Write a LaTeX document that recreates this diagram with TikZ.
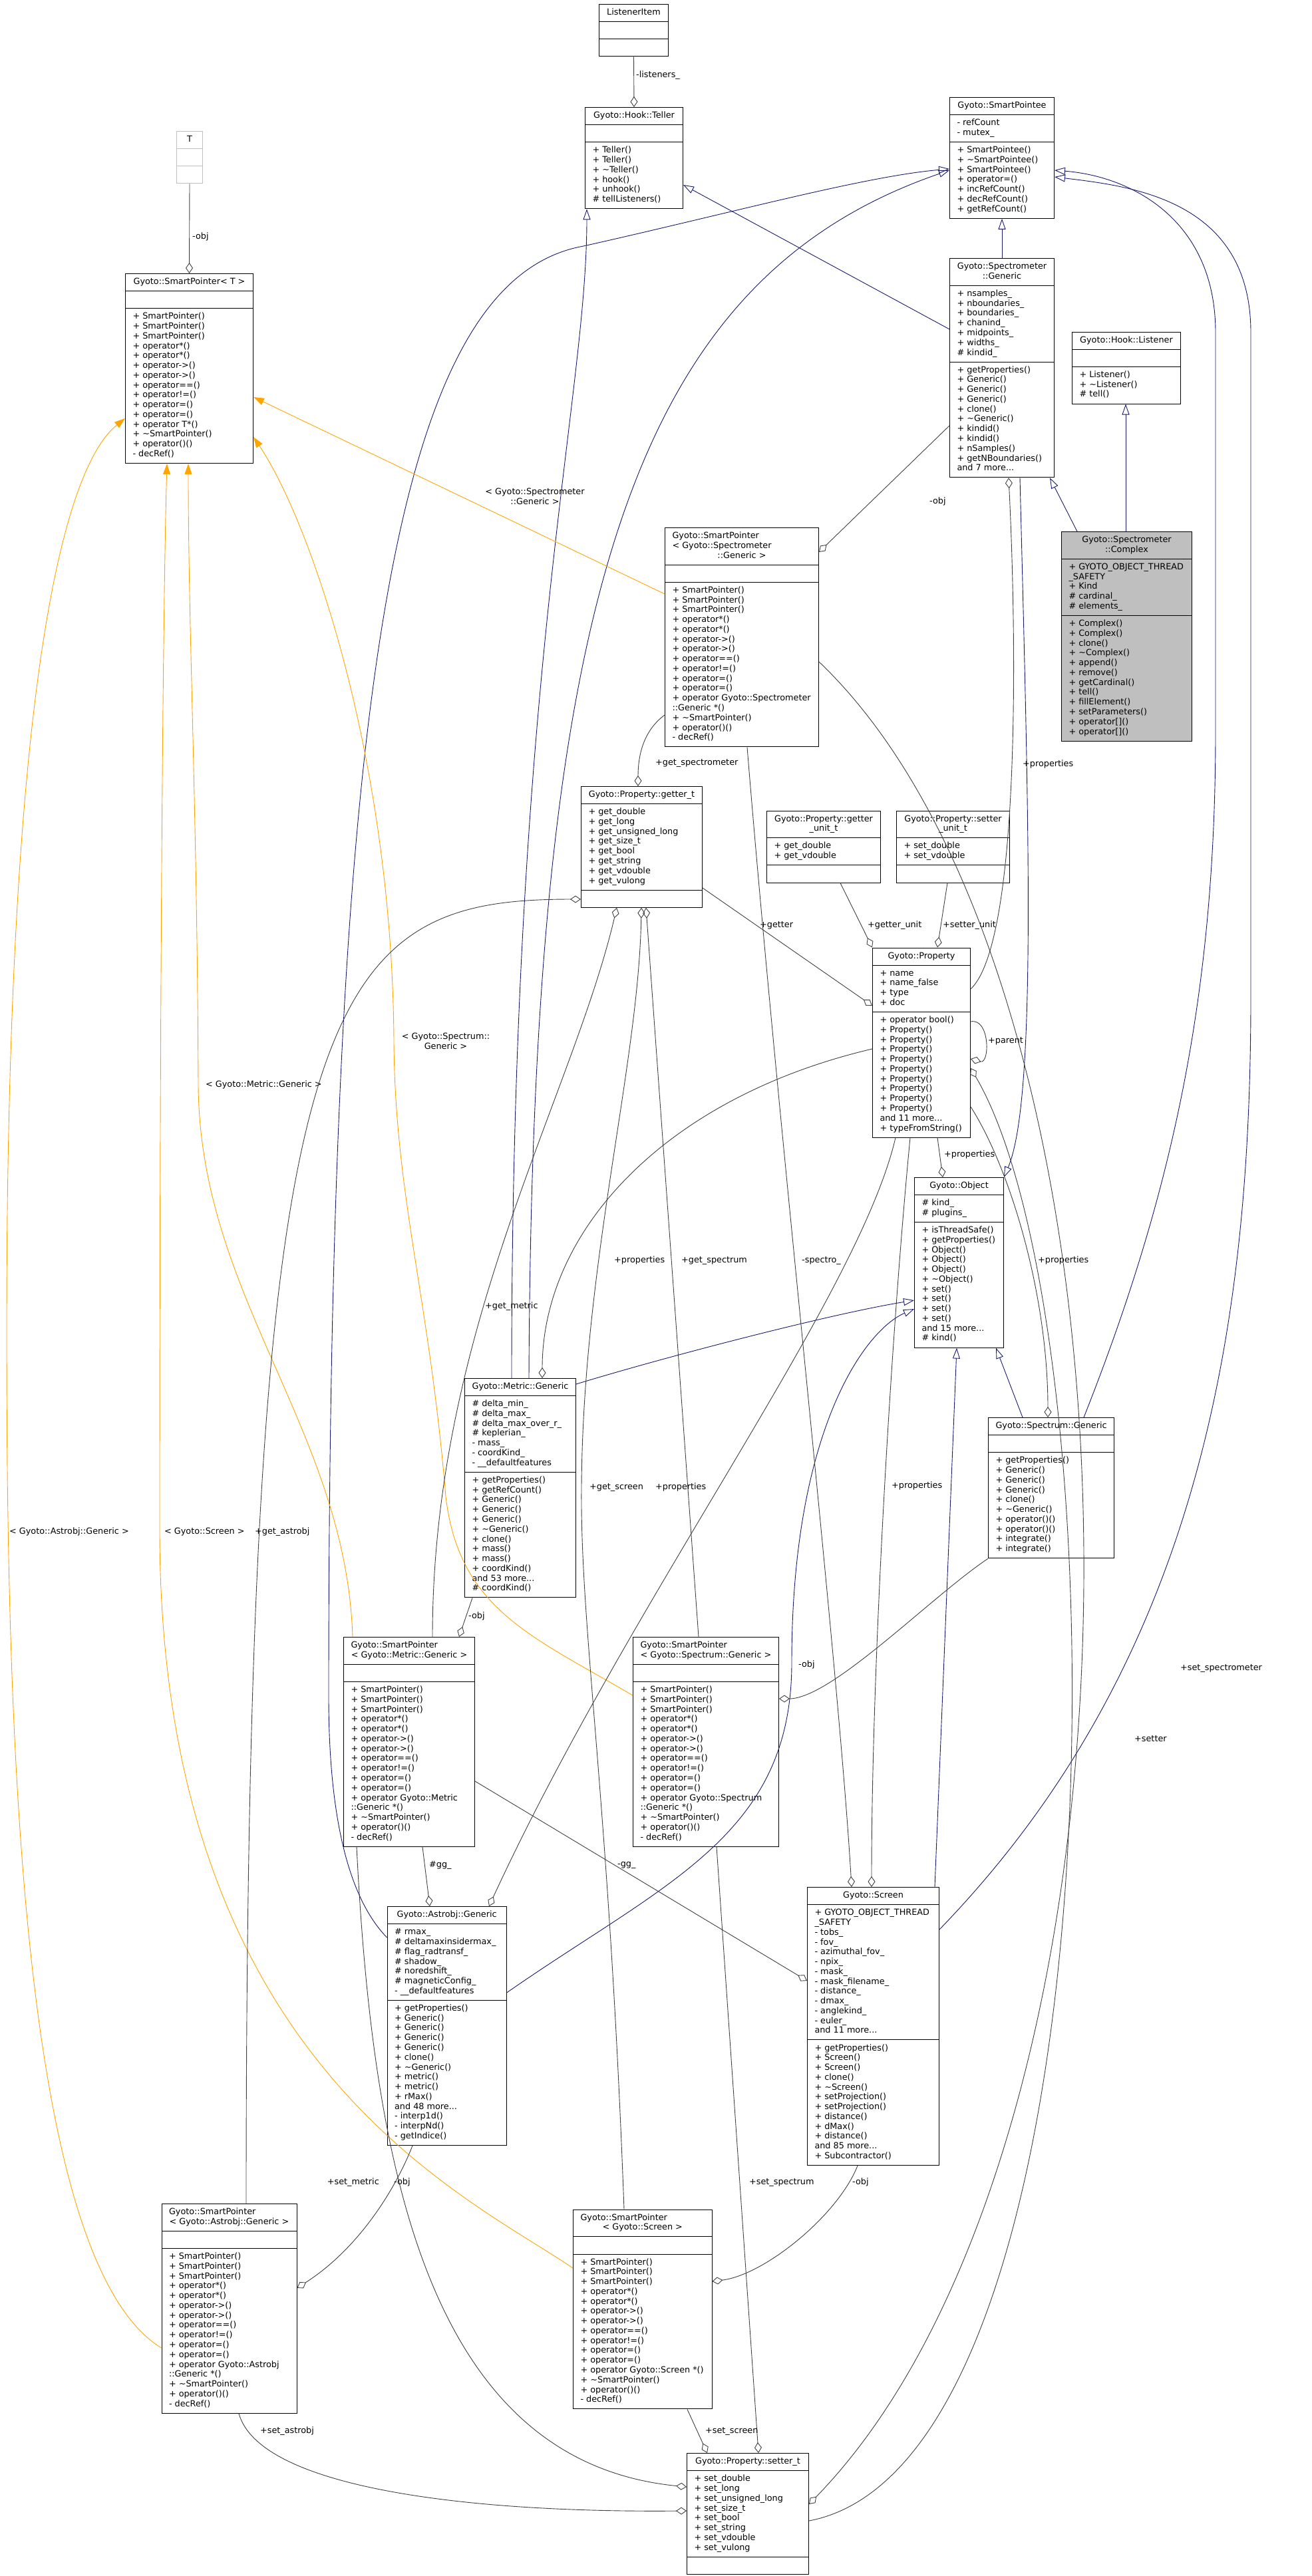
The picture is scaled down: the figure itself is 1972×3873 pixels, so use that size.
\documentclass[tikz,border=0pt]{standalone}
\usepackage{fontspec}
\setmainfont{DejaVu Sans}
\usetikzlibrary{arrows.meta}
\usetikzlibrary{shapes.multipart}

\definecolor{edgegray}{HTML}{404040}
\definecolor{inhblue}{HTML}{191970}
\definecolor{tplorange}{HTML}{FFA500}
\definecolor{boxgray}{HTML}{BFBFBF}

\newcommand{\cfont}{\fontsize{12.8}{14.76}\selectfont}
\newcommand{\umllines}[1]{\begin{tabular}{@{}l@{}}#1\end{tabular}}
\newcommand{\umlclines}[1]{\begin{tabular}{@{}c@{}}#1\end{tabular}}
\newcommand{\sptitle}[3]{\begin{tabular}{@{}p{#1}@{}}#2\\\multicolumn{1}{@{}c@{}}{#3}\end{tabular}}
\newcommand{\spmethods}[1]{\umllines{+ SmartPointer()\\+ SmartPointer()\\+ SmartPointer()\\+ operator*()\\+ operator*()\\+ operator->()\\+ operator->()\\+ operator==()\\+ operator!=()\\+ operator=()\\+ operator=()\\#1\\+ \textasciitilde SmartPointer()\\+ operator()()\\- decRef()}}

\tikzset{
  cls/.style={rectangle split, rectangle split parts=3, draw=black, line width=1pt,
    anchor=north west, inner xsep=11pt, inner ysep=5.2pt,
    rectangle split part align={center,left,left}, font=\cfont},
  agg/.style={draw=edgegray, line width=0.9pt, -{Diamond[open, length=16pt, width=11pt]}},
  inh/.style={draw=inhblue, line width=0.9pt, -{Triangle[open, length=16pt, width=11pt]}},
  tpl/.style={draw=tplorange, line width=0.9pt, -{Triangle[length=16pt, width=11pt]}},
  lbl/.style={font=\cfont, inner sep=0pt, anchor=west}
}

\begin{document}
\begin{tikzpicture}[x=1pt, y=-1pt]
\useasboundingbox (0,0) rectangle (1972,3873);

% classes
\node[cls, draw=boxgray, minimum width=39pt] (tmpl) at (265,197) {\strut T\nodepart{two}\strut\nodepart{three}\strut};
\node[cls, minimum width=192pt] (spt) at (188,411) {\strut Gyoto::SmartPointer< T >\nodepart{two}\strut
  \nodepart{three}\spmethods{+ operator T*()}};
\node[cls, minimum width=104pt] (litem) at (900,6) {\strut ListenerItem\nodepart{two}\strut\nodepart{three}\strut};
\node[cls, minimum width=147pt] (teller) at (879,161) {\strut Gyoto::Hook::Teller\nodepart{two}\strut
  \nodepart{three}\umllines{+ Teller()\\+ Teller()\\+ \textasciitilde Teller()\\+ hook()\\+ unhook()\\\# tellListeners()}};
\node[cls, minimum width=157pt] (ptee) at (1427,146) {\strut Gyoto::SmartPointee
  \nodepart{two}\umllines{- refCount\\- mutex\_}
  \nodepart{three}\umllines{+ SmartPointee()\\+ \textasciitilde SmartPointee()\\+ SmartPointee()\\+ operator=()\\+ incRefCount()\\+ decRefCount()\\+ getRefCount()}};
\node[cls, minimum width=157pt] (spgen) at (1427,388) {\umlclines{Gyoto::Spectrometer\\::Generic}
  \nodepart{two}\umllines{+ nsamples\_\\+ nboundaries\_\\+ boundaries\_\\+ chanind\_\\+ midpoints\_\\+ widths\_\\\# kindid\_}
  \nodepart{three}\umllines{+ getProperties()\\+ Generic()\\+ Generic()\\+ Generic()\\+ clone()\\+ \textasciitilde Generic()\\+ kindid()\\+ kindid()\\+ nSamples()\\+ getNBoundaries()\\and 7 more...}};
\node[cls, minimum width=163pt] (listener) at (1611,498.5) {\strut Gyoto::Hook::Listener\nodepart{two}\strut
  \nodepart{three}\umllines{+ Listener()\\+ \textasciitilde Listener()\\\# tell()}};
\node[cls, fill=boxgray, minimum width=196pt] (cplx) at (1595,799) {\umlclines{Gyoto::Spectrometer\\::Complex}
  \nodepart{two}\umllines{+ GYOTO\_OBJECT\_THREAD\\\_SAFETY\\+ Kind\\\# cardinal\_\\\# elements\_}
  \nodepart{three}\umllines{+ Complex()\\+ Complex()\\+ clone()\\+ \textasciitilde Complex()\\+ append()\\+ remove()\\+ getCardinal()\\+ tell()\\+ fillElement()\\+ setParameters()\\+ operator[]()\\+ operator[]()}};
\node[cls, minimum width=231pt] (spspec) at (999,793) {\sptitle{209pt}{Gyoto::SmartPointer\\< Gyoto::Spectrometer}{::Generic >}
  \nodepart{two}\strut
  \nodepart{three}\spmethods{+ operator Gyoto::Spectrometer\\::Generic *()}};
\node[cls, minimum width=182pt] (getter) at (873,1182) {\strut Gyoto::Property::getter\_t
  \nodepart{two}\umllines{+ get\_double\\+ get\_long\\+ get\_unsigned\_long\\+ get\_size\_t\\+ get\_bool\\+ get\_string\\+ get\_vdouble\\+ get\_vulong}
  \nodepart{three}\strut};
\node[cls, minimum width=171pt] (gunit) at (1152,1218.5) {\umlclines{Gyoto::Property::getter\\\_unit\_t}
  \nodepart{two}\umllines{+ get\_double\\+ get\_vdouble}\nodepart{three}\strut};
\node[cls, minimum width=170pt] (sunit) at (1347,1218.5) {\umlclines{Gyoto::Property::setter\\\_unit\_t}
  \nodepart{two}\umllines{+ set\_double\\+ set\_vdouble}\nodepart{three}\strut};
\node[cls, minimum width=147pt] (prop) at (1311,1424.5) {\strut Gyoto::Property
  \nodepart{two}\umllines{+ name\\+ name\_false\\+ type\\+ doc}
  \nodepart{three}\umllines{+ operator bool()\\+ Property()\\+ Property()\\+ Property()\\+ Property()\\+ Property()\\+ Property()\\+ Property()\\+ Property()\\+ Property()\\and 11 more...\\+ typeFromString()}};
\node[cls, minimum width=134pt] (obj) at (1374,1770) {\strut Gyoto::Object
  \nodepart{two}\umllines{\# kind\_\\\# plugins\_}
  \nodepart{three}\umllines{+ isThreadSafe()\\+ getProperties()\\+ Object()\\+ Object()\\+ Object()\\+ \textasciitilde Object()\\+ set()\\+ set()\\+ set()\\+ set()\\and 15 more...\\\# kind()}};
\node[cls, minimum width=189pt] (sgen) at (1485,2131) {\strut Gyoto::Spectrum::Generic\nodepart{two}\strut
  \nodepart{three}\umllines{+ getProperties()\\+ Generic()\\+ Generic()\\+ Generic()\\+ clone()\\+ \textasciitilde Generic()\\+ operator()()\\+ operator()()\\+ integrate()\\+ integrate()}};
\node[cls, minimum width=167pt] (mgen) at (698,2072) {\strut Gyoto::Metric::Generic
  \nodepart{two}\umllines{\# delta\_min\_\\\# delta\_max\_\\\# delta\_max\_over\_r\_\\\# keplerian\_\\- mass\_\\- coordKind\_\\- \_\_defaultfeatures}
  \nodepart{three}\umllines{+ getProperties()\\+ getRefCount()\\+ Generic()\\+ Generic()\\+ Generic()\\+ \textasciitilde Generic()\\+ clone()\\+ mass()\\+ mass()\\+ coordKind()\\and 53 more...\\\# coordKind()}};
\node[cls, minimum width=197pt] (spmet) at (516,2461) {\sptitle{175pt}{Gyoto::SmartPointer}{< Gyoto::Metric::Generic >}
  \nodepart{two}\strut
  \nodepart{three}\spmethods{+ operator Gyoto::Metric\\::Generic *()}};
\node[cls, minimum width=219pt] (spspm) at (951,2461) {\sptitle{197pt}{Gyoto::SmartPointer}{< Gyoto::Spectrum::Generic >}
  \nodepart{two}\strut
  \nodepart{three}\spmethods{+ operator Gyoto::Spectrum\\::Generic *()}};
\node[cls, minimum width=179pt] (agen) at (581.6,2866) {\strut Gyoto::Astrobj::Generic
  \nodepart{two}\umllines{\# rmax\_\\\# deltamaxinsidermax\_\\\# flag\_radtransf\_\\\# shadow\_\\\# noredshift\_\\\# magneticConfig\_\\- \_\_defaultfeatures}
  \nodepart{three}\umllines{+ getProperties()\\+ Generic()\\+ Generic()\\+ Generic()\\+ Generic()\\+ clone()\\+ \textasciitilde Generic()\\+ metric()\\+ metric()\\+ rMax()\\and 48 more...\\- interp1d()\\- interpNd()\\- getIndice()}};
\node[cls, minimum width=198pt] (scr) at (1213,2837) {\strut Gyoto::Screen
  \nodepart{two}\umllines{+ GYOTO\_OBJECT\_THREAD\\\_SAFETY\\- tobs\_\\- fov\_\\- azimuthal\_fov\_\\- npix\_\\- mask\_\\- mask\_filename\_\\- distance\_\\- dmax\_\\- anglekind\_\\- euler\_\\and 11 more...}
  \nodepart{three}\umllines{+ getProperties()\\+ Screen()\\+ Screen()\\+ clone()\\+ \textasciitilde Screen()\\+ setProjection()\\+ setProjection()\\+ distance()\\+ dMax()\\+ distance()\\and 85 more...\\+ Subcontractor()}};
\node[cls, minimum width=203pt] (spast) at (242.5,3313) {\sptitle{181pt}{Gyoto::SmartPointer}{< Gyoto::Astrobj::Generic >}
  \nodepart{two}\strut
  \nodepart{three}\spmethods{+ operator Gyoto::Astrobj\\::Generic *()}};
\node[cls, minimum width=208.5pt] (spscr) at (861,3321.5) {\sptitle{186.5pt}{Gyoto::SmartPointer}{< Gyoto::Screen >}
  \nodepart{two}\strut
  \nodepart{three}\spmethods{+ operator Gyoto::Screen *()}};
\node[cls, minimum width=183pt] (setter) at (1032,3688) {\strut Gyoto::Property::setter\_t
  \nodepart{two}\umllines{+ set\_double\\+ set\_long\\+ set\_unsigned\_long\\+ set\_size\_t\\+ set\_bool\\+ set\_string\\+ set\_vdouble\\+ set\_vulong}
  \nodepart{three}\strut};

% inheritance
\draw[inh] (spgen.north) -- (ptee.south);
\draw[inh] (spgen.west |- 0,495) -- (teller.east |- 0,278);
\draw[inh] (cplx.north -| 1619,0) -- (spgen.south -| 1578,0);
\draw[inh] (cplx.north -| 1692,0) -- (listener.south -| 1692,0);
\draw[inh] (spgen.south -| 1533,0) .. controls (1545,1200) and (1560,1650) .. (obj.north east);
\draw[inh] (mgen.north -| 795,0) .. controls (800,900) and (950,420) .. (ptee.west |- 0,256);
\draw[inh] (agen.west |- 0,2913) .. controls (530,2860) and (494,2750) .. (494,2550)
  .. controls (494,1000) and (600,420) .. (877,370) .. controls (1100,320) and (1300,265) .. (ptee.west |- 0,254);
\draw[inh] (mgen.north -| 769,0) .. controls (769,1000) and (882,600) .. (teller.south -| 882,0);
\draw[inh] (mgen.east |- 0,2081) .. controls (1000,2040) and (1250,1975) .. (obj.west |- 0,1955);
\draw[inh] (agen.east |- 0,2996) .. controls (1000,2830) and (1190,2760) .. (1190,2500)
  .. controls (1190,2150) and (1300,2000) .. (obj.west |- 0,1968);
\draw[inh] (sgen.north -| 1537,0) -- (obj.south -| 1497,0);
\draw[inh] (scr.north -| 1405,0) -- (obj.south -| 1438,0);
\draw[inh] (sgen.north -| 1629,0) .. controls (1760,1800) and (1827,1500) .. (1827,1100) -- (1827,500)
  .. controls (1827,330) and (1700,265) .. (ptee.east |- 0,256);
\draw[inh] (scr.east |- 0,2901) .. controls (1800,2500) and (1880,2000) .. (1880,1500) -- (1880,500)
  .. controls (1880,300) and (1700,280) .. (ptee.east |- 0,266);

% template instances
\draw[tpl] (spspec.west |- 0,893) -- (spt.east |- 0,597);
\node[lbl, anchor=center] (l-tsp) at (804,748) {\umlclines{< Gyoto::Spectrometer\\::Generic >}};
\draw[tpl] (spspm.west |- 0,2549) .. controls (800,2460) and (690,2420) .. (670,2250)
  .. controls (645,1950) and (594,1800) .. (592,1567) .. controls (590,1150) and (470,790) .. (spt.east |- 0,657);
\node[lbl, anchor=center] (l-tsm) at (670,1567) {\umlclines{< Gyoto::Spectrum::\\Generic >}};
\draw[tpl] (spast.west |- 0,3530) .. controls (30,3400) and (10,2600) .. (10,2000)
  .. controls (10,1000) and (100,700) .. (spt.west |- 0,629);
\node[lbl] (l-tas) at (14,2303) {< Gyoto::Astrobj::Generic >};
\draw[tpl] (spmet.north -| 530,0) .. controls (520,2150) and (300,1950) .. (298,1631)
  .. controls (296,1200) and (283,950) .. (spt.south -| 283,0);
\node[lbl] (l-tmt) at (309,1631) {< Gyoto::Metric::Generic >};
\draw[tpl] (spscr.west |- 0,3410) .. controls (700,3300) and (240,3100) .. (240,2300)
  .. controls (240,1500) and (245,900) .. (spt.south -| 251,0);
\node[lbl] (l-tsc) at (247,2303) {< Gyoto::Screen >};

% aggregation
\draw[agg] (tmpl.south) -- (spt.north);
\node[lbl] (l-tobj) at (289,356) {-obj};
\draw[agg] (litem.south) -- (teller.north);
\node[lbl] (l-lis) at (956,113) {-listeners\_};
\draw[agg] (spgen.west |- 0,640) -- (spspec.east |- 0,830);
\node[lbl] (l-spobj) at (1397,754) {-obj};
\draw[agg] (gunit.south -| 1263,0) -- (prop.north west);
\node[lbl] (l-gu) at (1304,1391) {+getter\_unit};
\draw[agg] (sunit.south -| 1424,0) -- (prop.north -| 1409,0);
\node[lbl] (l-su) at (1417,1391) {+setter\_unit};
\draw[agg] (getter.east |- 0,1335) -- (prop.west |- 0,1512);
\node[lbl] (l-get) at (1142,1391) {+getter};
\draw[agg] (prop.east |- 0,1536) .. controls (1488,1530) and (1488,1600) .. (prop.east |- 0,1592);
\node[lbl] (l-par) at (1485,1565) {+parent};
\draw[agg] (prop.south -| 1409,0) -- (obj.north -| 1417,0);
\node[lbl] (l-pobj) at (1419,1736) {+properties};
\draw[agg] (prop.east |- 0,1487) .. controls (1530,1420) and (1530,1000) .. (spgen.south -| 1516,0);
\node[lbl] (l-pspg) at (1537,1149) {+properties};
\draw[agg] (prop.west |- 0,1577) .. controls (1000,1650) and (815,1850) .. (mgen.north -| 815,0);
\node[lbl] (l-pmg) at (923,1895) {+properties};
\draw[agg] (prop.east |- 0,1664) .. controls (1520,1760) and (1575,1950) .. (sgen.north -| 1575,0);
\node[lbl] (l-psg) at (1560,1895) {+properties};
\draw[agg] (prop.south -| 1346,0) .. controls (1290,1950) and (950,2400) .. (agen.north -| 735,0);
\node[lbl] (l-pag) at (985,2236) {+properties};
\draw[agg] (prop.south -| 1368,0) .. controls (1340,2000) and (1310,2500) .. (scr.north -| 1310,0);
\node[lbl] (l-psc) at (1340,2234) {+properties};
\draw[agg] (setter.east |- 0,3790) .. controls (1690,3700) and (1690,2000) .. (prop.east |- 0,1606);
\node[lbl] (l-set) at (1705,2614) {+setter};
\draw[agg] (spspec.west |- 0,1075) .. controls (965,1100) and (959,1140) .. (getter.north -| 959,0);
\node[lbl] (l-gsp) at (985,1148) {+get\_spectrometer};
\draw[agg] (spspec.south -| 1123,0) .. controls (1170,1700) and (1260,2500) .. (scr.north -| 1280,0);
\node[lbl] (l-spc) at (1205,1895) {-spectro\_};
\draw[agg] (spspec.east |- 0,995) .. controls (1760,1500) and (1765,3200) .. (setter.east |- 0,3765);
\node[lbl] (l-ssp) at (1774,2508) {+set\_spectrometer};
\draw[agg] (mgen.south -| 710,0) -- (spmet.north -| 690,0);
\node[lbl] (l-mobj) at (704,2430) {-obj};
\draw[agg] (spmet.south -| 635,0) -- (agen.north -| 646,0);
\node[lbl] (l-gg1) at (645,2804) {\#gg\_};
\draw[agg] (spmet.east |- 0,2678) -- (scr.west |- 0,2978);
\node[lbl] (l-gg2) at (928,2804) {-gg\_};
\draw[agg] (spmet.south -| 536,0) .. controls (560,3250) and (640,3700) .. (setter.west |- 0,3739);
\node[lbl, anchor=east] (l-smt) at (570,3281) {+set\_metric};
\draw[agg] (spmet.north -| 650,0) .. controls (650,2000) and (860,1650) .. (getter.south -| 927,0);
\node[lbl] (l-gmt) at (729,1964) {+get\_metric};
\draw[agg] (spspm.south -| 1077,0) -- (setter.north -| 1140,0);
\node[lbl] (l-ssm) at (1126,3281) {+set\_spectrum};
\draw[agg] (spspm.north -| 1050,0) -- (getter.south -| 971,0);
\node[lbl] (l-gsm) at (1024,1895) {+get\_spectrum};
\draw[agg] (sgen.south west) .. controls (1400,2400) and (1250,2554) .. (spspm.east |- 0,2554);
\node[lbl] (l-sobj) at (1200,2503) {-obj};
\draw[agg] (agen.south -| 620,0) .. controls (595,3290) and (540,3380) .. (spast.east |- 0,3440);
\node[lbl] (l-aobj) at (592,3281) {-obj};
\draw[agg] (spast.south -| 359,0) .. controls (390,3740) and (700,3778) .. (setter.west |- 0,3775);
\node[lbl] (l-sas) at (391,3655) {+set\_astrobj};
\draw[agg] (spast.north -| 370,0) .. controls (370,1500) and (480,1352) .. (getter.west |- 0,1352);
\node[lbl] (l-gas) at (383,2303) {+get\_astrobj};
\draw[agg] (scr.south -| 1289,0) .. controls (1260,3330) and (1150,3420) .. (spscr.east |- 0,3430);
\node[lbl] (l-cobj) at (1281,3281) {-obj};
\draw[agg] (spscr.south -| 1033,0) -- (setter.north -| 1063,0);
\node[lbl] (l-ssc) at (1060,3655) {+set\_screen};
\draw[agg] (spscr.north -| 938,0) .. controls (915,2700) and (872,2450) .. (874,2236)
  .. controls (876,1900) and (960,1600) .. (getter.south -| 964,0);
\node[lbl] (l-gsc) at (886,2236) {+get\_screen};

\end{tikzpicture}
\end{document}
